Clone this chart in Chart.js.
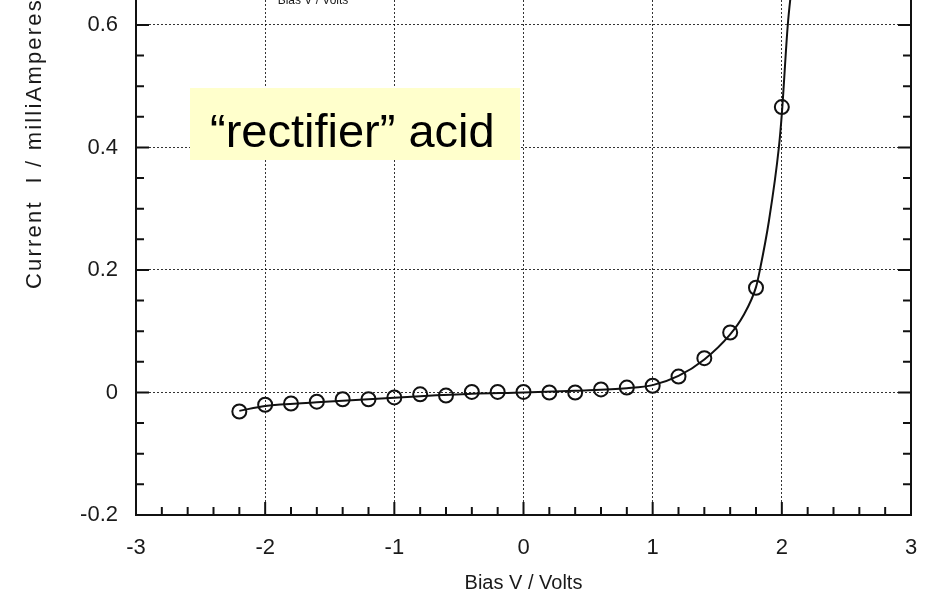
<!DOCTYPE html>
<html>
<head>
<meta charset="utf-8">
<script src="https://cdn.jsdelivr.net/npm/chart.js@4"></script>
<style>
  body { margin: 0; background: #fff; overflow: hidden; }
  #wrap { position: relative; width: 928px; height: 596px; }
</style>
</head>
<body>
<div id="wrap"><canvas id="ivChart"></canvas></div>
<script>
// measured I-V points (circles)
const biasV = [-2.2, -2.0, -1.8, -1.6, -1.4, -1.2, -1.0, -0.8, -0.6, -0.4, -0.2, 0, 0.2, 0.4, 0.6, 0.8, 1.0, 1.2, 1.4, 1.6, 1.8, 2.0];
const currentMA = [-0.031, -0.020, -0.018, -0.015, -0.011, -0.011, -0.008, -0.003, -0.005, 0.001, 0.001, 0.001, 0.000, 0.000, 0.005, 0.008, 0.011, 0.026, 0.056, 0.098, 0.171, 0.466];

// fitted curve (solid line)
const fitV = [-2.2, -2.0, -1.6, -1.2, -0.8, -0.4, 0, 0.4, 0.8, 1.0, 1.2, 1.4, 1.6, 1.7, 1.8, 1.83, 1.9, 1.977, 2.0, 2.046, 2.08];
const fitI = [-0.030, -0.022, -0.016, -0.011, -0.006, -0.002, 0.000, 0.003, 0.007, 0.012, 0.027, 0.054, 0.095, 0.125, 0.172, 0.20, 0.28, 0.40, 0.455, 0.60, 0.67];

const xTicks = [-3, -2, -1, 0, 1, 2, 3];
const yTicks = [-0.2, 0, 0.2, 0.4, 0.6];

const FONT = "'Liberation Sans', Arial, sans-serif";
const INK = '#1a1a1a';

// inward tick marks, right frame, annotation and cropped labels
const decorPlugin = {
  id: 'decor',
  afterDraw(chart) {
    const ctx = chart.ctx;
    const { left, right, top, bottom } = chart.chartArea;
    const xs = chart.scales.x, ys = chart.scales.y;
    ctx.save();
    ctx.strokeStyle = '#111';
    ctx.lineWidth = 2;

    // right frame line
    ctx.beginPath();
    ctx.moveTo(right, top);
    ctx.lineTo(right, bottom);
    ctx.stroke();

    // y ticks, left and right
    for (let i = -4; i <= 13; i++) {
      const v = i * 0.05;
      if (v > ys.max) break;
      const y = ys.getPixelForValue(v);
      const len = (i % 4 === 0) ? 13 : 8;
      ctx.beginPath();
      ctx.moveTo(left, y); ctx.lineTo(left + len, y);
      ctx.moveTo(right, y); ctx.lineTo(right - len, y);
      ctx.stroke();
    }
    // x ticks, bottom
    for (let i = -15; i <= 15; i++) {
      const x = xs.getPixelForValue(i * 0.2);
      const len = (i % 5 === 0) ? 13 : 8;
      ctx.beginPath();
      ctx.moveTo(x, bottom); ctx.lineTo(x, bottom - len);
      ctx.stroke();
    }

    // annotation box
    ctx.fillStyle = '#ffffcc';
    ctx.fillRect(190, 88, 330, 72);
    ctx.fillStyle = '#000';
    ctx.font = '47px ' + FONT;
    ctx.textBaseline = 'alphabetic';
    ctx.textAlign = 'left';
    ctx.fillText('\u201Crectifier\u201D acid', 210, 147);

    // cropped title from the panel above
    ctx.fillStyle = INK;
    ctx.font = '12px ' + FONT;
    ctx.textAlign = 'center';
    ctx.fillText('Bias V / Volts', 313, 4);

    // y axis title (runs off the top)
    ctx.font = '22px ' + FONT;
    ctx.letterSpacing = '2.2px';
    ctx.translate(35, 289);
    ctx.rotate(-Math.PI / 2);
    ctx.textAlign = 'left';
    ctx.textBaseline = 'middle';
    ctx.fillText('Current  I / milliAmperes', 0, 0);
    ctx.restore();
  }
};

new Chart(document.getElementById('ivChart'), {
  type: 'scatter',
  data: {
    datasets: [
      {
        label: 'fit',
        data: fitV.map((v, i) => ({ x: v, y: fitI[i] })),
        showLine: true,
        borderColor: '#111',
        borderWidth: 2,
        pointRadius: 0,
        cubicInterpolationMode: 'monotone'
      },
      {
        label: 'measured',
        data: biasV.map((v, i) => ({ x: v, y: currentMA[i] })),
        showLine: false,
        pointRadius: 7,
        pointBorderWidth: 2,
        pointBorderColor: '#111',
        pointBackgroundColor: 'rgba(0,0,0,0)'
      }
    ]
  },
  options: {
    responsive: true,
    maintainAspectRatio: false,
    animation: false,
    layout: { autoPadding: false, padding: { top: 0, right: 17, bottom: 0, left: 0 } },
    plugins: { legend: { display: false }, tooltip: { enabled: false } },
    scales: {
      x: {
        type: 'linear',
        min: -3,
        max: 3,
        afterBuildTicks: s => { s.ticks = xTicks.map(v => ({ value: v })); },
        afterFit: s => { s.height = 81; s.paddingLeft = 0; s.paddingRight = 0; },
        grid: { color: 'rgba(0,0,0,0.8)', lineWidth: 1, drawTicks: false },
        border: { display: true, color: '#111', width: 2, dash: [2, 2] },
        ticks: {
          padding: 20,
          color: INK,
          font: { family: FONT, size: 22 },
          callback: v => String(v)
        },
        title: {
          display: true,
          text: 'Bias V / Volts',
          color: INK,
          font: { family: FONT, size: 20 },
          padding: { top: 0, bottom: 1 }
        }
      },
      y: {
        type: 'linear',
        min: -0.2,
        max: 0.6408,
        afterBuildTicks: s => { s.ticks = yTicks.map(v => ({ value: v })); },
        afterFit: s => { s.width = 136; s.paddingTop = 0; s.paddingBottom = 0; },
        grid: { color: 'rgba(0,0,0,0.8)', lineWidth: 1, drawTicks: false },
        border: { display: true, color: '#111', width: 2, dash: [2, 2] },
        ticks: {
          padding: 18,
          color: INK,
          font: { family: FONT, size: 22 },
          callback: v => String(Math.round(v * 10) / 10)
        }
      }
    }
  },
  plugins: [decorPlugin]
});
</script>
</body>
</html>
